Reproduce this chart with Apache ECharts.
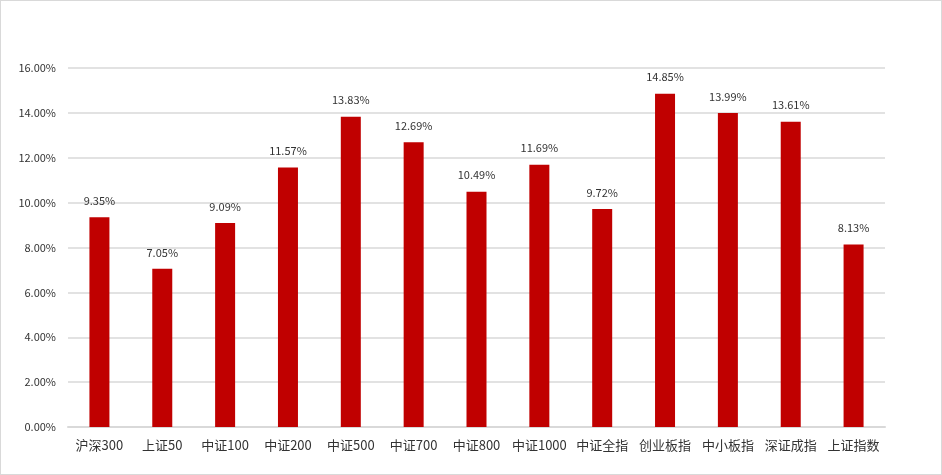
<!DOCTYPE html>
<html><head><meta charset="utf-8">
<script src="https://cdn.jsdelivr.net/npm/echarts@6/dist/echarts.min.js"></script>
<style>html,body{margin:0;padding:0;background:#fff}#c{width:942px;height:475px;box-sizing:border-box;border:1px solid #d9d9d9}</style>
</head><body><div id="c"></div>
<script>
const categories = ['沪深300','上证50','中证100','中证200','中证500','中证700','中证800','中证1000','中证全指','创业板指','中小板指','深证成指','上证指数'];
const values = [9.35, 7.05, 9.09, 11.57, 13.83, 12.69, 10.49, 11.69, 9.72, 14.85, 13.99, 13.61, 8.13];
const chart = echarts.init(document.getElementById('c'));
const font = '"Microsoft YaHei","Noto Sans CJK SC","DejaVu Sans",sans-serif';
chart.setOption({
  animation:false,
  grid:{left:67,right:56,top:67,bottom:47},
  xAxis:{type:'category',data:categories,
    axisLine:{lineStyle:{color:'#d9d9d9',width:2}},axisTick:{show:false},
    axisLabel:{color:'#333',fontSize:13,margin:12,fontFamily:font,interval:0}},
  yAxis:{type:'value',min:0,max:16,interval:2,
    axisLine:{show:false},axisTick:{show:false},
    splitLine:{lineStyle:{color:'#d9d9d9',width:1.5}},
    axisLabel:{color:'#333',fontSize:11,margin:12,fontFamily:font,formatter:v=>v.toFixed(2)+'%'}},
  series:[{type:'bar',data:values,barWidth:20,itemStyle:{color:'#C00000'},
    label:{show:true,position:'top',distance:11,color:'#333',fontSize:11,fontFamily:font,formatter:p=>p.value.toFixed(2)+'%'}}]
});
</script></body></html>
